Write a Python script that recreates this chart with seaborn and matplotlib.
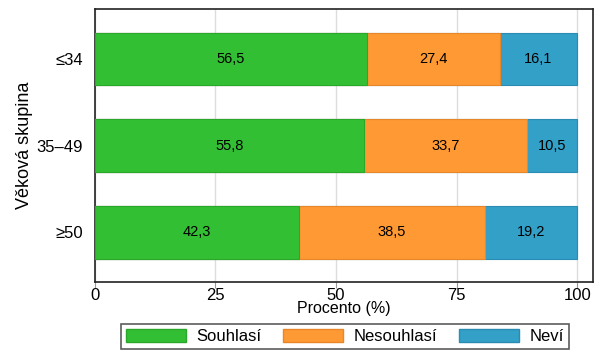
import pandas as pd
import matplotlib.pyplot as plt
import seaborn as sns
from matplotlib.patches import Patch

# --- data ---
groups = ["≤34", "35–49", "≥50"]
souhlasi = [56.5, 55.8, 42.3]
nesouhlasi = [27.4, 33.7, 38.5]
nevi = [16.1, 10.5, 19.2]

series_names = ["Souhlasí", "Nesouhlasí", "Neví"]
colors = ["#33bf33", "#ff9933", "#33a0c8"]
edges = ["#2aa82a", "#e8862a", "#2b8cb3"]

df = pd.DataFrame({"group": groups, "Souhlasí": souhlasi,
                   "Nesouhlasí": nesouhlasi, "Neví": nevi})
df["c1"] = df["Souhlasí"]
df["c2"] = df["c1"] + df["Nesouhlasí"]
df["c3"] = df["c2"] + df["Neví"]

sns.set_style("white")
plt.rcParams["font.family"] = ["Liberation Sans", "DejaVu Sans"]
plt.rcParams["text.color"] = "black"
plt.rcParams["xtick.color"] = "black"
plt.rcParams["ytick.color"] = "black"
plt.rcParams["axes.labelcolor"] = "black"

fig = plt.figure(figsize=(6.04, 3.62), dpi=100)
ax = fig.add_axes([0.157, 0.221, 0.825, 0.754])

# layered cumulative bars -> stacked look
for col, c, e in zip(["c3", "c2", "c1"], colors[::-1], edges[::-1]):
    sns.barplot(data=df, y="group", x=col, orient="h", color=c, saturation=1,
                edgecolor=e, linewidth=0.8, width=0.6, ax=ax, zorder=3)

# value labels
for i, row in df.iterrows():
    lefts = [0, row["c1"], row["c2"]]
    for name, left in zip(series_names, lefts):
        v = row[name]
        ax.text(left + v / 2, i, f"{v:.1f}".replace(".", ","),
                ha="center", va="center", fontsize=10.5, color="black", zorder=5)

ax.set_xlim(0, 103.3)
ax.set_ylim(2.57, -0.57)
ax.set_xticks([0, 25, 50, 75, 100])
ax.xaxis.grid(True, color="#dddddd", linewidth=1, zorder=0)
ax.set_axisbelow(True)
for s in ax.spines.values():
    s.set_visible(True)
    s.set_color("#222222")
    s.set_linewidth(1.2)
ax.tick_params(axis="x", labelsize=12, length=4, color="#999999",
               bottom=True, pad=0)
ax.tick_params(axis="y", labelsize=12, left=False, pad=5)
ax.set_xlabel("Procento (%)", fontsize=11.5)
ax.xaxis.set_label_coords(0.5, -0.07)
ax.set_ylabel("Věková skupina", fontsize=13)
ax.yaxis.set_label_coords(-0.125, 0.5)

handles = [Patch(facecolor=c, edgecolor=e, label=n)
           for c, e, n in zip(colors, edges, series_names)]
leg = fig.legend(handles=handles, loc="center", bbox_to_anchor=(0.571, 0.07),
                 ncol=3, frameon=True, fancybox=False, fontsize=12,
                 handlelength=3.6, handleheight=0.8, columnspacing=1.3,
                 handletextpad=0.65, borderpad=0.3, borderaxespad=0)
leg.get_frame().set_edgecolor("#333333")
leg.get_frame().set_linewidth(1.2)

fig.savefig("out.png", dpi=100)
